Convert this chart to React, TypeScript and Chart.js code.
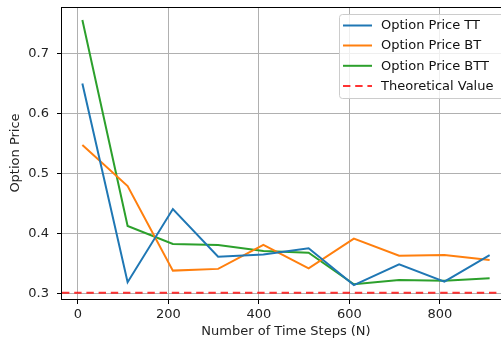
import React, { useEffect, useRef } from "react";
import { Chart, registerables } from "chart.js";

Chart.register(...registerables);

const timeSteps = [10, 110, 210, 310, 410, 510, 610, 710, 810, 910];
const priceTT = [0.65, 0.3187, 0.4408, 0.3613, 0.365, 0.3753, 0.314, 0.3487, 0.3197, 0.364];
const priceBT = [0.5475, 0.479, 0.3381, 0.341, 0.381, 0.342, 0.3914, 0.363, 0.364, 0.356];
const priceBTT = [0.7558, 0.4125, 0.3825, 0.381, 0.371, 0.368, 0.3153, 0.3225, 0.3213, 0.3253];
const theoreticalValue = 0.3013;
const xTicks = [0, 200, 400, 600, 800];
const yTicks = [0.3, 0.4, 0.5, 0.6, 0.7];
const seriesLabels = ["Option Price TT", "Option Price BT", "Option Price BTT", "Theoretical Value"];
const xTitle = "Number of Time Steps (N)";
const yTitle = "Option Price";

const X_MIN = -35;
const X_MAX = 955;
const Y_MIN = 0.2908;
const Y_MAX = 0.7775;

const FONT = "DejaVu Sans";
const FS = 13;

const overlayPlugin = {
  id: "overlay",
  afterDraw(chart: any) {
    const ctx = chart.ctx as CanvasRenderingContext2D;
    const a = chart.chartArea;
    ctx.save();
    // spines
    ctx.strokeStyle = "#000";
    ctx.lineWidth = 1;
    ctx.strokeRect(Math.round(a.left) - 0.5, Math.round(a.top) + 0.5, Math.round(a.right - a.left), Math.round(a.bottom - a.top));
    // axis titles
    ctx.fillStyle = "#222";
    ctx.font = `${FS}px "${FONT}"`;
    ctx.textAlign = "center";
    ctx.textBaseline = "middle";
    ctx.fillText(xTitle, (a.left + a.right) / 2, 332);
    ctx.save();
    ctx.translate(16, (a.top + a.bottom) / 2);
    ctx.rotate(-Math.PI / 2);
    ctx.fillText(yTitle, 0, 0);
    ctx.restore();
    // legend
    const bx = 339.5, by = 14.5, bw = 167, bh = 84, r = 3;
    ctx.beginPath();
    ctx.moveTo(bx + r, by);
    ctx.lineTo(bx + bw - r, by);
    ctx.quadraticCurveTo(bx + bw, by, bx + bw, by + r);
    ctx.lineTo(bx + bw, by + bh - r);
    ctx.quadraticCurveTo(bx + bw, by + bh, bx + bw - r, by + bh);
    ctx.lineTo(bx + r, by + bh);
    ctx.quadraticCurveTo(bx, by + bh, bx, by + bh - r);
    ctx.lineTo(bx, by + r);
    ctx.quadraticCurveTo(bx, by, bx + r, by);
    ctx.closePath();
    ctx.fillStyle = "rgba(255,255,255,0.8)";
    ctx.fill();
    ctx.strokeStyle = "#cccccc";
    ctx.lineWidth = 1;
    ctx.stroke();
    const rows = [25.5, 45.5, 65.8, 86];
    chart.data.datasets.forEach((ds: any, i: number) => {
      const y = rows[i];
      ctx.beginPath();
      ctx.setLineDash(ds.borderDash || []);
      ctx.strokeStyle = ds.borderColor;
      ctx.lineWidth = ds.borderWidth;
      ctx.moveTo(343, y);
      ctx.lineTo(372, y);
      ctx.stroke();
      ctx.setLineDash([]);
      ctx.fillStyle = "#111";
      ctx.textAlign = "left";
      ctx.textBaseline = "middle";
      ctx.font = `${FS}px "${FONT}"`;
      ctx.fillText(ds.label, 381, y + 0.5);
    });
    ctx.restore();
  },
};

export default function App() {
  const ref = useRef<HTMLCanvasElement>(null);
  useEffect(() => {
    if (!ref.current) return;
    const mk = (vals: number[]) => timeSteps.map((x, i) => ({ x, y: vals[i] }));
    const chart = new Chart(ref.current, {
      type: "line",
      data: {
        datasets: [
          { label: seriesLabels[0], data: mk(priceTT), borderColor: "#1f77b4", borderWidth: 2, pointRadius: 0, tension: 0 },
          { label: seriesLabels[1], data: mk(priceBT), borderColor: "#ff7f0e", borderWidth: 2, pointRadius: 0, tension: 0 },
          { label: seriesLabels[2], data: mk(priceBTT), borderColor: "#2ca02c", borderWidth: 2, pointRadius: 0, tension: 0 },
          {
            label: seriesLabels[3],
            data: [
              { x: X_MIN, y: theoreticalValue },
              { x: X_MAX, y: theoreticalValue },
            ],
            borderColor: "rgba(255,0,0,0.8)",
            borderWidth: 2,
            borderDash: [7.4, 4.8],
            pointRadius: 0,
          },
        ],
      },
      options: {
        animation: false,
        responsive: false,
        devicePixelRatio: 1,
        layout: { padding: { top: 7, right: 1, left: 0, bottom: 0 } },
        plugins: { legend: { display: false }, tooltip: { enabled: false } },
        scales: {
          x: {
            type: "linear",
            min: X_MIN,
            max: X_MAX,
            afterBuildTicks: (s: any) => {
              s.ticks = xTicks.map((v) => ({ value: v }));
            },
            afterFit: (s: any) => {
              s.height = 44;
              s.paddingLeft = 0;
              s.paddingRight = 0;
            },
            grid: { color: "#b0b0b0", lineWidth: 1, tickLength: 5, tickColor: "#000", drawTicks: true },
            border: { display: false },
            ticks: { color: "#222", font: { family: FONT, size: FS }, padding: 3, maxRotation: 0 },
          },
          y: {
            type: "linear",
            min: Y_MIN,
            max: Y_MAX,
            afterBuildTicks: (s: any) => {
              s.ticks = yTicks.map((v) => ({ value: v }));
            },
            afterFit: (s: any) => {
              s.width = 62;
              s.paddingTop = 0;
              s.paddingBottom = 0;
            },
            grid: { color: "#b0b0b0", lineWidth: 1, tickLength: 5, tickColor: "#000", drawTicks: true },
            border: { display: false },
            ticks: {
              color: "#222",
              font: { family: FONT, size: FS },
              padding: 8,
              callback: (v: any) => Number(v).toFixed(1),
            },
          },
        },
      },
      plugins: [overlayPlugin],
    } as any);
    return () => chart.destroy();
  }, []);
  return (
    <div style={{ position: "fixed", left: 0, top: 0, width: 501, height: 343, overflow: "hidden", background: "#fff" }}>
      <canvas ref={ref} width={511} height={343} style={{ width: 511, height: 343, display: "block" }} />
    </div>
  );
}
